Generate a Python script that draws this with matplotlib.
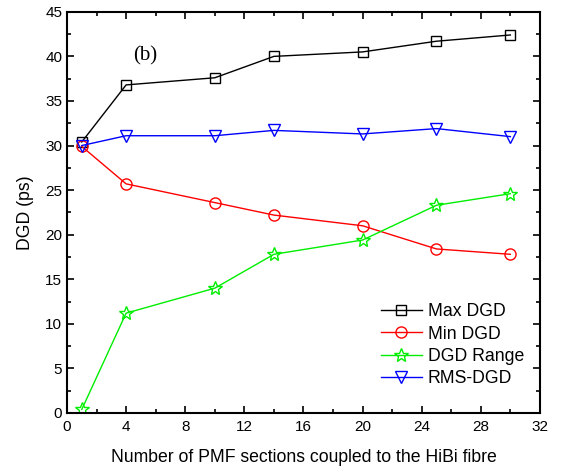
import matplotlib
matplotlib.use("Agg")
import matplotlib.pyplot as plt
from matplotlib.ticker import MultipleLocator

plt.rcParams["font.family"] = ["Liberation Sans", "DejaVu Sans"]

sections = [1, 4, 10, 14, 20, 25, 30]
max_dgd = [30.4, 36.8, 37.6, 40.0, 40.5, 41.7, 42.4]
min_dgd = [29.9, 25.7, 23.6, 22.2, 21.0, 18.4, 17.8]
dgd_range = [0.4, 11.2, 14.0, 17.8, 19.4, 23.3, 24.6]
rms_dgd = [30.0, 31.1, 31.1, 31.7, 31.3, 31.9, 31.0]

fig = plt.figure(figsize=(5.63, 4.72), dpi=100)
ax = fig.add_axes([0.119, 0.125, 0.840, 0.850])

style = dict(linewidth=1.0, markerfacecolor="none", markeredgewidth=1.0)
ax.plot(sections, max_dgd, color="black", marker="s", markersize=7, label="Max DGD", **style)
ax.plot(sections, min_dgd, color="red", marker="o", markersize=8, label="Min DGD", **style)
ax.plot(sections, dgd_range, color="#00ee00", marker="*", markersize=10, label="DGD Range", **style)
ax.plot(sections, rms_dgd, color="blue", marker="v", markersize=9, label="RMS-DGD", **style)

ax.set_xlim(0, 32)
ax.set_ylim(0, 45)
ax.xaxis.set_major_locator(MultipleLocator(4))
ax.xaxis.set_minor_locator(MultipleLocator(2))
ax.yaxis.set_major_locator(MultipleLocator(5))
ax.yaxis.set_minor_locator(MultipleLocator(2.5))
ax.tick_params(which="both", direction="in", top=True, right=True, labelsize=11, width=1.2)
ax.tick_params(which="major", length=5)
ax.tick_params(which="minor", length=3)
ax.tick_params(axis="x", pad=5)
for spine in ax.spines.values():
    spine.set_linewidth(1.5)

ax.set_xlabel("Number of PMF sections coupled to the HiBi fibre", fontsize=12.7, labelpad=11)
ax.set_ylabel("DGD (ps)", fontsize=12.7, labelpad=8)
ax.text(5.3, 40.1, "(b)", family=["Liberation Serif", "DejaVu Serif"], fontsize=15,
        ha="center", va="center")

ax.legend(loc="lower right", bbox_to_anchor=(1.0, 0.025), frameon=False, fontsize=12.7,
          handlelength=2.3, handletextpad=0.35, labelspacing=0.3)

fig.savefig("out.png", dpi=100)
